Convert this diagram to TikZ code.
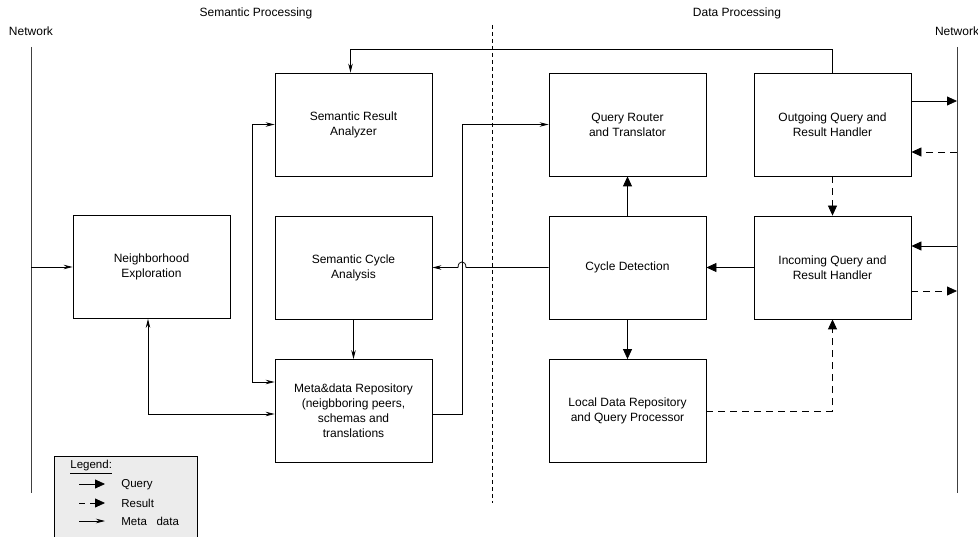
\documentclass[tikz,border=0pt]{standalone}
\usepackage{fontspec}
\setmainfont{Liberation Sans}
\usetikzlibrary{arrows.meta}
\begin{document}
\begin{tikzpicture}[x=1pt,y=-1pt,
  line width=0.8pt,
  box/.style={draw,line width=0.8pt,rectangle,minimum width=157pt,minimum height=103pt,inner sep=0pt,align=center,font=\fontsize{12}{15}\selectfont},
  query/.style={-{Triangle[length=10pt,width=9pt]}},
  result/.style={dashed,dash pattern=on 7pt off 5pt,-{Triangle[length=10pt,width=9pt]}},
  meta/.style={-{Stealth[length=9pt,width=4.5pt,inset=3pt]}},
  metaboth/.style={{Stealth[length=9pt,width=4.5pt,inset=3pt]}-{Stealth[length=9pt,width=4.5pt,inset=3pt]}},
  title/.style={font=\fontsize{12}{14}\selectfont},
  net/.style={line width=1pt,black!75}
]
\useasboundingbox (0,0) rectangle (978,537);
\clip (0,0) rectangle (978,537);

% titles
\node[title] (tsem) at (256,13) {Semantic Processing};
\node[title] (tdat) at (737,13) {Data Processing};
\node[title] (tnl) at (31,31) {Network};
\node[title] (tnr) at (957,31) {Network};

% network lines and separator
\coordinate (nlt) at (31,47);
\coordinate (nlb) at (31,493);
\coordinate (nrt) at (957,47);
\coordinate (nrb) at (957,493);
\draw[net] (nlt) -- (nlb);
\draw[net] (nrt) -- (nrb);
\coordinate (sept) at (492,25);
\coordinate (sepb) at (492,503);
\draw[dashed,dash pattern=on 4pt off 3pt,line width=0.9pt] (sept) -- (sepb);

% boxes
\node[box] (NE)  at (151.5,267) {Neighborhood\\Exploration};
\node[box] (SRA) at (353.5,124.5) {Semantic Result\\Analyzer};
\node[box] (SCA) at (353.5,267.5) {Semantic Cycle\\Analysis};
\node[box] (MR)  at (353.5,411) {Meta\&data Repository\\(neigbboring peers,\\schemas and\\translations};
\node[box] (QR)  at (627.5,124.5) {Query Router\\and Translator};
\node[box] (CD)  at (627.5,267.5) {Cycle Detection};
\node[box] (LD)  at (627.5,411) {Local Data Repository\\and Query Processor};
\node[box] (OG)  at (832.5,124.5) {Outgoing Query and\\Result Handler};
\node[box] (IN)  at (832.5,267.5) {Incoming Query and\\Result Handler};

% free ends on the network lines
\coordinate (n1) at (957,101);
\coordinate (n2) at (957,152);
\coordinate (n3) at (957,246);
\coordinate (n4) at (957,291);
\coordinate (nl) at (31,267);
\coordinate (toploop) at (0,49);
\coordinate (hopa) at (466,267.5);
\coordinate (hopb) at (458,267.5);
\coordinate (vx) at (462,0);
\coordinate (lx) at (252,0);

% data processing connectors
\draw[query] (n1 -| OG.east) -- (n1);
\draw[result] (n2) -- (n2 -| OG.east);
\draw[query] (n3) -- (n3 -| IN.east);
\draw[result] (n4 -| IN.east) -- (n4);
\draw[result] (OG.south) -- (IN.north);
\draw[query] (IN.west) -- (CD.east);
\draw[query] (CD.north) -- (QR.south);
\draw[query] (CD.south) -- (LD.north);
\draw[result] (LD.east) -| (IN.south);

% semantic connectors
\draw[meta] (nl) -- (NE.west);
\draw[meta] (CD.west) -- (hopa) .. controls (466,260) and (458,260) .. (hopb) -- (SCA.east);
\draw[meta] (SCA.south) -- (MR.north);
\draw[meta] ([yshift=-3pt]MR.east) -| (vx |- QR.west) -- (QR.west);
\draw[meta] (OG.north) -- (OG.north |- toploop) -| ([xshift=-3pt]SRA.north);
\draw[metaboth] ([yshift=29pt]MR.west) -| (lx |- SRA.west) -- (SRA.west);
\draw[metaboth] ([xshift=-3.5pt]NE.south) |- ([yshift=-3pt]MR.west);

% legend
\draw[fill=gray!15,line width=0.8pt] (54,456) rectangle (197,545);
\node[anchor=west,font=\fontsize{11.5}{13}\selectfont,inner sep=0pt] (lg) at (70,467) {\underline{Legend:}};
\coordinate (la1) at (79,484);
\coordinate (lb1) at (105,484);
\coordinate (la2) at (79,503);
\coordinate (lb2) at (105,503);
\coordinate (la3) at (79,521);
\coordinate (lb3) at (105,521);
\draw[query] (la1) -- (lb1);
\draw[result,dash pattern=on 6pt off 5pt] (la2) -- (lb2);
\draw[meta] (la3) -- (lb3);
\node[anchor=west,font=\fontsize{11.5}{13}\selectfont,inner sep=0pt] (lq) at (121,485) {Query};
\node[anchor=west,font=\fontsize{11.5}{13}\selectfont,inner sep=0pt] (lr) at (121,503) {Result};
\node[anchor=west,font=\fontsize{11.5}{13}\selectfont,inner sep=0pt] (lm) at (121,521) {Meta\ \ \ data};
\end{tikzpicture}
\end{document}
